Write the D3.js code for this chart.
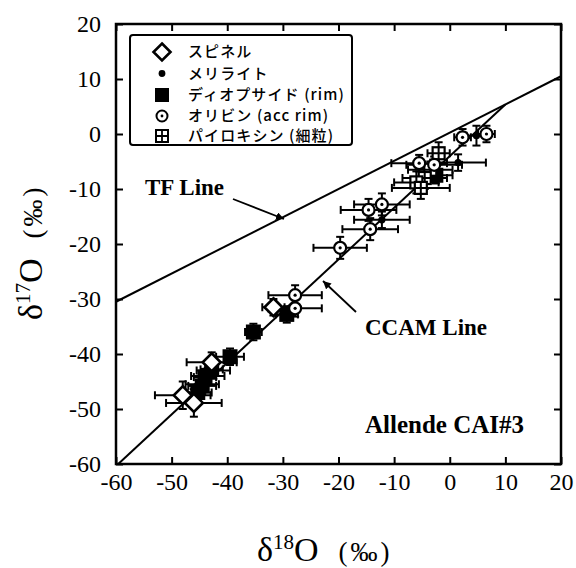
<!DOCTYPE html>
<html><head><meta charset="utf-8">
<script src="https://cdn.jsdelivr.net/npm/d3@7"></script>
<style>body{margin:0;background:#fff}</style>
</head><body>
<svg id="c" width="576" height="568" style="background:#fff"></svg>
<script>
// ---- data ----
const xTicks = [-60,-50,-40,-30,-20,-10,0,10,20];
const yTicks = [-60,-50,-40,-30,-20,-10,0,10,20];
// [x, y, xerr, yerr]
const spinel = [[-48,-47.5,5,2.5],[-46,-48.9,5,2.5],[-42.8,-41.5,4.5,1.8],[-31.7,-31.5,2,1.5]];
const melilite = [[-44.5,-45.5,3,1.5],[-43.5,-44,3,1.5],[-42.5,-43,3,1.5],[-12.2,-15.6,5,1.5],[1.5,-5.2,5,1.5],[4.8,-0.3,1.8,1.8]];
const diopside = [[-45.3,-47,2.5,1.5],[-44.5,-45.8,2.5,1.5],[-44,-44.2,2,1.5],[-42.8,-42.8,2,1.5],[-39.5,-40.5,2.5,1.5],[-35.3,-36,1.5,1.5],[-29.3,-32.8,2,1.5],[-2.5,-7.5,3,1.5]];
const olivine = [[2.3,-0.6,1.5,1.5],[6.6,0,1.5,1.5],[-5.5,-5.3,5,1.5],[-2.8,-5.6,5,1.5],[-14.6,-13.8,5,2],[-12.2,-12.8,5,2],[-14.3,-17.3,5,2],[-19.7,-20.7,4.8,2],[-27.8,-29.3,4.8,1.8],[-27.8,-31.7,4.8,1.5]];
const pyroxene = [[-2,-3.5,2,2],[-3.5,-6.5,4,1.5],[-4.5,-8,4,2],[-6,-8.8,4,2],[-5.2,-9.8,5.2,2]];
const tfLine = [[-60,-30.5],[20,10.5]];
const ccamLine = [[-59.6,-60],[10,5.37]];
const legendLabels = ["スピネル","メリライト","ディオプサイド (rim)","オリビン (acc rim)","パイロキシン (細粒)"];

// ---- layout ----
const svg = d3.select("#c");
const L = 116, R = 561, T = 24, B = 464;
const x = d3.scaleLinear().domain([-60,20]).range([L,R]);
const y = d3.scaleLinear().domain([-60,20]).range([B,T]);
const serif = "'Liberation Serif','Times New Roman',serif";

// axes (inward ticks)
function styleAxis(g){ g.select(".domain").remove(); g.selectAll(".tick line").attr("stroke","#000").attr("stroke-width",2); }
const fmt = d => String(d);
svg.append("g").attr("transform",`translate(0,${B})`)
  .call(d3.axisBottom(x).tickValues(xTicks).tickSize(-7).tickPadding(9).tickFormat(fmt))
  .call(styleAxis).selectAll("text").attr("font-family",serif).attr("font-size",24).attr("fill","#000");
svg.append("g").attr("transform",`translate(${L},0)`)
  .call(d3.axisLeft(y).tickValues(yTicks).tickSize(-7).tickPadding(15).tickFormat(fmt))
  .call(styleAxis).selectAll("text").attr("font-family",serif).attr("font-size",24).attr("fill","#000");
svg.append("g").attr("transform",`translate(0,${T})`)
  .call(d3.axisTop(x).tickValues(xTicks).tickSize(-7).tickFormat(""))
  .call(styleAxis);
svg.append("g").attr("transform",`translate(${R},0)`)
  .call(d3.axisRight(y).tickValues(yTicks).tickSize(-7).tickFormat(""))
  .call(styleAxis);

// frame
svg.append("rect").attr("x",L).attr("y",T).attr("width",R-L).attr("height",B-T)
  .attr("fill","none").attr("stroke","#000").attr("stroke-width",2.5);

// reference lines
const line = d3.line().x(d=>x(d[0])).y(d=>y(d[1]));
svg.append("path").attr("d",line(tfLine)).attr("stroke","#000").attr("stroke-width",2).attr("fill","none");
svg.append("path").attr("d",line(ccamLine)).attr("stroke","#000").attr("stroke-width",2).attr("fill","none");

// error bars
const eb = svg.append("g").attr("stroke","#000").attr("stroke-width",2);
function errorBars(data){
  const cap = 4;
  data.forEach(d=>{
    const cx = x(d[0]), cy = y(d[1]);
    const x0 = x(d[0]-d[2]), x1 = x(d[0]+d[2]);
    const y0 = y(d[1]-d[3]), y1 = y(d[1]+d[3]);
    eb.append("line").attr("x1",x0).attr("x2",x1).attr("y1",cy).attr("y2",cy);
    eb.append("line").attr("x1",x0).attr("x2",x0).attr("y1",cy-cap).attr("y2",cy+cap);
    eb.append("line").attr("x1",x1).attr("x2",x1).attr("y1",cy-cap).attr("y2",cy+cap);
    eb.append("line").attr("x1",cx).attr("x2",cx).attr("y1",y0).attr("y2",y1);
    eb.append("line").attr("x1",cx-cap).attr("x2",cx+cap).attr("y1",y0).attr("y2",y0);
    eb.append("line").attr("x1",cx-cap).attr("x2",cx+cap).attr("y1",y1).attr("y2",y1);
  });
}
[diopside, melilite, pyroxene, olivine, spinel].forEach(errorBars);

// marker drawers
const markers = {
  spinel: (g,cx,cy)=>{ const s=9; g.append("path").attr("d",`M${cx},${cy-s}L${cx+s},${cy}L${cx},${cy+s}L${cx-s},${cy}Z`).attr("fill","#fff").attr("stroke","#000").attr("stroke-width",2.6); },
  melilite: (g,cx,cy)=>{ g.append("circle").attr("cx",cx).attr("cy",cy).attr("r",3.6).attr("fill","#000"); },
  diopside: (g,cx,cy)=>{ const s=7.5; g.append("rect").attr("x",cx-s).attr("y",cy-s).attr("width",2*s).attr("height",2*s).attr("fill","#000"); },
  olivine: (g,cx,cy)=>{ g.append("circle").attr("cx",cx).attr("cy",cy).attr("r",6).attr("fill","#fff").attr("stroke","#000").attr("stroke-width",2.2);
    g.append("circle").attr("cx",cx).attr("cy",cy).attr("r",1.6).attr("fill","#000"); },
  pyroxene: (g,cx,cy)=>{ const s=6; g.append("rect").attr("x",cx-s).attr("y",cy-s).attr("width",2*s).attr("height",2*s).attr("fill","#fff").attr("stroke","#000").attr("stroke-width",2.2);
    g.append("path").attr("d",`M${cx-s},${cy}H${cx+s}M${cx},${cy-s}V${cy+s}`).attr("stroke","#000").attr("stroke-width",2); }
};
const mg = svg.append("g");
diopside.forEach(d=>markers.diopside(mg,x(d[0]),y(d[1])));
melilite.forEach(d=>markers.melilite(mg,x(d[0]),y(d[1])));
pyroxene.forEach(d=>markers.pyroxene(mg,x(d[0]),y(d[1])));
olivine.forEach(d=>markers.olivine(mg,x(d[0]),y(d[1])));
spinel.forEach(d=>markers.spinel(mg,x(d[0]),y(d[1])));

// legend
const lg = svg.append("g");
lg.append("rect").attr("x",130).attr("y",35).attr("width",222).attr("height",110).attr("rx",3)
  .attr("fill","#fff").attr("stroke","#000").attr("stroke-width",2);
const rowY = [52,73.5,95,116,136];
const keys = ["spinel","melilite","diopside","olivine","pyroxene"];
keys.forEach((k,i)=>{
  const g = lg.append("g");
  if(k==="spinel") { const s=8.5; g.append("path").attr("d",`M162,${rowY[i]-s}L${162+s},${rowY[i]}L162,${rowY[i]+s}L${162-s},${rowY[i]}Z`).attr("fill","#fff").attr("stroke","#000").attr("stroke-width",2.6); }
  else if(k==="melilite") g.append("circle").attr("cx",162).attr("cy",rowY[i]).attr("r",3.4);
  else if(k==="diopside") g.append("rect").attr("x",155).attr("y",rowY[i]-7).attr("width",14).attr("height",14);
  else if(k==="olivine") { g.append("circle").attr("cx",162).attr("cy",rowY[i]).attr("r",5.5).attr("fill","#fff").attr("stroke","#000").attr("stroke-width",2); g.append("circle").attr("cx",162).attr("cy",rowY[i]).attr("r",1.4); }
  else { const s=6; g.append("rect").attr("x",162-s).attr("y",rowY[i]-s).attr("width",2*s).attr("height",2*s).attr("fill","#fff").attr("stroke","#000").attr("stroke-width",2);
    g.append("path").attr("d",`M${162-s},${rowY[i]}H${162+s}M162,${rowY[i]-s}V${rowY[i]+s}`).attr("stroke","#000").attr("stroke-width",1.8); }
  lg.append("text").attr("x",188).attr("y",rowY[i]).attr("dy","0.36em").attr("font-family","'Noto Sans CJK JP',sans-serif")
    .attr("font-size",15).attr("font-weight",500).attr("letter-spacing",1.1).attr("fill","#000").text(legendLabels[i]);
});

// annotations
const ann = svg.append("g").attr("font-family",serif).attr("font-weight","bold").attr("fill","#000");
ann.append("text").attr("x",145).attr("y",195).attr("font-size",23).text("TF Line");
ann.append("text").attr("x",365).attr("y",335).attr("font-size",23).text("CCAM Line");
ann.append("text").attr("x",365).attr("y",433).attr("font-size",25).text("Allende CAI#3");

svg.append("defs").append("marker").attr("id","ah").attr("viewBox","0 0 10 10").attr("refX",10).attr("refY",5)
  .attr("markerWidth",8).attr("markerHeight",8).attr("markerUnits","userSpaceOnUse").attr("orient","auto")
  .append("path").attr("d","M0,0L10,5L0,10Z").attr("fill","#000");
svg.append("line").attr("x1",233).attr("y1",199).attr("x2",284).attr("y2",219).attr("stroke","#000").attr("stroke-width",1.8).attr("marker-end","url(#ah)");
svg.append("line").attr("x1",356).attr("y1",312).attr("x2",323).attr("y2",281).attr("stroke","#000").attr("stroke-width",1.8).attr("marker-end","url(#ah)");

// axis titles
function title(sel, sup){
  sel.append("tspan").attr("font-size",34).text("δ");
  sel.append("tspan").attr("font-size",21).attr("dy",-12).text(sup);
  sel.append("tspan").attr("font-size",34).attr("dy",12).text("O");
  sel.append("tspan").attr("font-size",27).attr("dx",20).attr("letter-spacing",3).text("(‰)");
}
title(svg.append("text").attr("x",257).attr("y",561).attr("font-family",serif).attr("fill","#000"), "18");
title(svg.append("text").attr("transform","translate(42,320) rotate(-90)").attr("font-family",serif).attr("fill","#000"), "17");
</script>
</body></html>
